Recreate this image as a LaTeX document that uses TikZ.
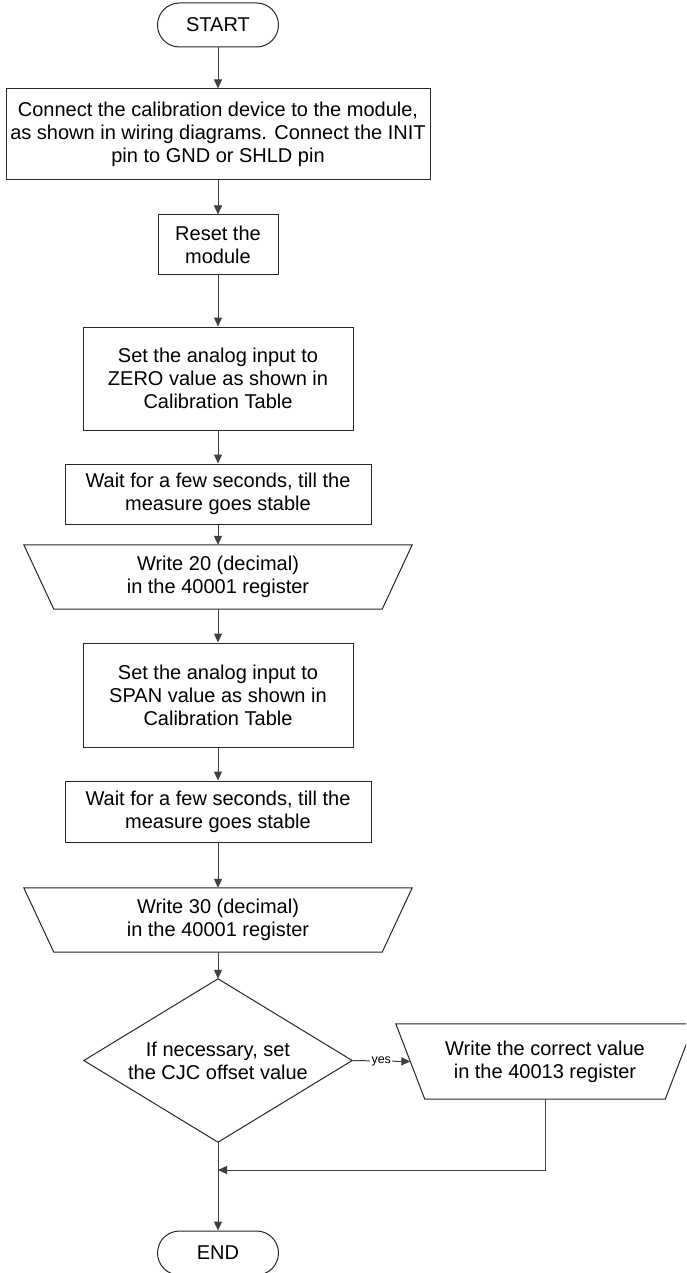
\documentclass[tikz,border=0pt]{standalone}
\usepackage{fontspec}
\setmainfont{Liberation Sans}
\usetikzlibrary{arrows.meta,shapes.misc,calc}
\begin{document}
\begin{tikzpicture}[x=1pt,y=-1pt,
  every node/.style={font=\fontsize{20}{23}\selectfont, align=center, inner sep=0pt},
  term/.style={draw=black!85, rounded rectangle, minimum width=121pt, minimum height=44pt, line width=1pt},
  proc/.style={draw=black!85, rectangle, line width=1pt},
  hold/.style={rectangle, draw=none},
  conn/.style={draw=black!75, line width=1pt, -{Triangle[length=9pt,width=8pt]}},
  shp/.style={draw=black!85, line width=1pt},
  lbl/.style={fill=white, font=\fontsize{12.5}{13}\selectfont, inner sep=1.5pt},
]
\useasboundingbox (0,0) rectangle (686,1273);
\clip (0,0) rectangle (686,1273);

\node[term] (start) at (218,25) {START};
\node[proc, minimum width=424pt, minimum height=91pt] (b1) at (218,134.5)
  {Connect the calibration device to the module,\\as shown in wiring diagrams. Connect the INIT\\pin to GND or SHLD pin};
\node[proc, minimum width=120pt, minimum height=59pt] (b2) at (218,244.5) {Reset the\\module};
\node[proc, minimum width=270pt, minimum height=103pt] (b3) at (218,378.5)
  {Set the analog input to\\ZERO value as shown in\\Calibration Table};
\node[proc, minimum width=306pt, minimum height=60pt] (b4) at (218,494)
  {Wait for a few seconds, till the\\measure goes stable};
\node[hold, minimum width=388pt, minimum height=64pt] (t1) at (218,577)
  {Write 20 (decimal)\\in the 40001 register};
\draw[shp] (t1.north west) -- (t1.north east) -- ([xshift=-30pt]t1.south east) -- ([xshift=30pt]t1.south west) -- cycle;
\node[proc, minimum width=270pt, minimum height=104pt] (b5) at (218,695)
  {Set the analog input to\\SPAN value as shown in\\Calibration Table};
\node[proc, minimum width=306pt, minimum height=61pt] (b6) at (218,811.5)
  {Wait for a few seconds, till the\\measure goes stable};
\node[hold, minimum width=388pt, minimum height=64pt] (t2) at (218,920)
  {Write 30 (decimal)\\in the 40001 register};
\draw[shp] (t2.north west) -- (t2.north east) -- ([xshift=-30pt]t2.south east) -- ([xshift=30pt]t2.south west) -- cycle;
\node[hold, minimum width=268pt, minimum height=163pt] (d) at (218,1060.5)
  {If necessary, set\\the CJC offset value};
\draw[shp] (d.north) -- (d.east) -- (d.south) -- (d.west) -- cycle;
\node[hold, minimum width=298pt, minimum height=75pt] (t3) at (545,1061.5)
  {Write the correct value\\in the 40013 register};
\draw[shp] (t3.north west) -- (t3.north east) -- ([xshift=-29pt]t3.south east) -- ([xshift=29pt]t3.south west) -- cycle;
\node[term] (end) at (218,1253) {END};

\coordinate (t3in) at ($(t3.north west)!0.5!([xshift=29pt]t3.south west)$);
\coordinate (j) at (218,1170);

\draw[conn] (start.south) -- (b1.north);
\draw[conn] (b1) -- (b2);
\draw[conn] (b2) -- (b3);
\draw[conn] (b3) -- (b4);
\draw[conn] (b4) -- (t1);
\draw[conn] (t1) -- (b5);
\draw[conn] (b5) -- (b6);
\draw[conn] (b6) -- (t2);
\draw[conn] (t2.south) -- (d.north);
\draw[conn] (d.east) -- node[lbl] {yes} (t3in);
\draw[conn] (t3.south) |- (j);
\draw[conn] (d.south) -- (end.north);
\end{tikzpicture}
\end{document}
